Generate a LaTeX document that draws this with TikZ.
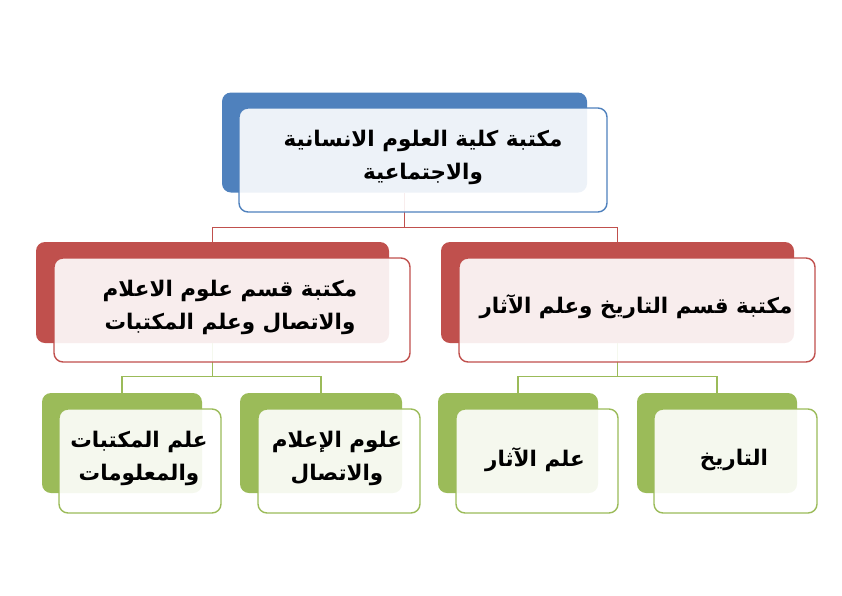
\documentclass[tikz,border=0pt]{standalone}
\usepackage{fontspec}
\newfontfamily\arabicfont[Script=Arabic]{DejaVu Sans}
\TeXXeTstate=1
\newcommand{\artext}[1]{{\arabicfont\bfseries\beginR #1\endR}}
\definecolor{officeblue}{HTML}{4F81BD}
\definecolor{officered}{HTML}{C0504D}
\definecolor{officegreen}{HTML}{9BBB59}

\begin{document}
\begin{tikzpicture}[x=1pt,y=-1pt,
    back/.style={rectangle, rounded corners=9pt, fill=#1, inner sep=0pt},
    front/.style={rectangle, rounded corners=9pt, draw=#1, line width=1.4pt, fill=white, fill opacity=0.9, inner sep=0pt},
    link/.style={draw=#1, line width=1.1pt},
    caption/.style={font=\fontsize{21.5}{33}\selectfont, align=center, text=black, inner sep=0pt}]
    \useasboundingbox (0,0) rectangle (842,595);

    % back boxes
    \node[back=officeblue, minimum width=365pt, minimum height=100pt] (kulliya) at (404.5,142.5) {};
    \node[back=officered, minimum width=353pt, minimum height=101pt] (ilam) at (212.5,292.5) {};
    \node[back=officered, minimum width=353pt, minimum height=101pt] (tarikh) at (617.5,292.5) {};
    \node[back=officegreen, minimum width=160pt, minimum height=100pt] (maktabat) at (122,443) {};
    \node[back=officegreen, minimum width=162pt, minimum height=100pt] (ittisal) at (321,443) {};
    \node[back=officegreen, minimum width=160pt, minimum height=100pt] (athar) at (518,443) {};
    \node[back=officegreen, minimum width=160pt, minimum height=100pt] (history) at (717,443) {};

    % connectors
    \draw[link=officered] (kulliya.south) -- ++(0,35) coordinate (k) -| (ilam.north);
    \draw[link=officered] (k) -| (tarikh.north);
    \draw[link=officegreen] (ilam.south) -- ++(0,33) coordinate (i) -| (maktabat.north);
    \draw[link=officegreen] (i) -| (ittisal.north);
    \draw[link=officegreen] (tarikh.south) -- ++(0,33) coordinate (t) -| (athar.north);
    \draw[link=officegreen] (t) -| (history.north);

    % front boxes
    \node[front=officeblue, minimum width=368pt, minimum height=104pt] (kulliyaF) at (423,160) {};
    \node[front=officered, minimum width=356pt, minimum height=104pt] (ilamF) at (232,310) {};
    \node[front=officered, minimum width=356pt, minimum height=104pt] (tarikhF) at (637,310) {};
    \node[front=officegreen, minimum width=162pt, minimum height=104pt] (maktabatF) at (140,461) {};
    \node[front=officegreen, minimum width=162pt, minimum height=104pt] (ittisalF) at (339,461) {};
    \node[front=officegreen, minimum width=162pt, minimum height=104pt] (atharF) at (537,461) {};
    \node[front=officegreen, minimum width=163pt, minimum height=104pt] (historyF) at (735.5,461) {};

    % texts
    \node[caption] (kulliyaT) at (423,157) {\artext{مكتبة كلية العلوم الانسانية}\\\artext{والاجتماعية}};
    \node[caption] (ilamT) at (230,307) {\artext{مكتبة قسم علوم الاعلام}\\\artext{والاتصال وعلم المكتبات}};
    \node[caption] (tarikhT) at (636,307) {\artext{مكتبة قسم التاريخ وعلم الآثار}};
    \node[caption] (maktabatT) at (139,458) {\artext{علم المكتبات}\\\artext{والمعلومات}};
    \node[caption] (ittisalT) at (337,458) {\artext{علوم الإعلام}\\\artext{والاتصال}};
    \node[caption] (atharT) at (535,460) {\artext{علم الآثار}};
    \node[caption] (historyT) at (734,460) {\artext{التاريخ}};
\end{tikzpicture}
\end{document}
